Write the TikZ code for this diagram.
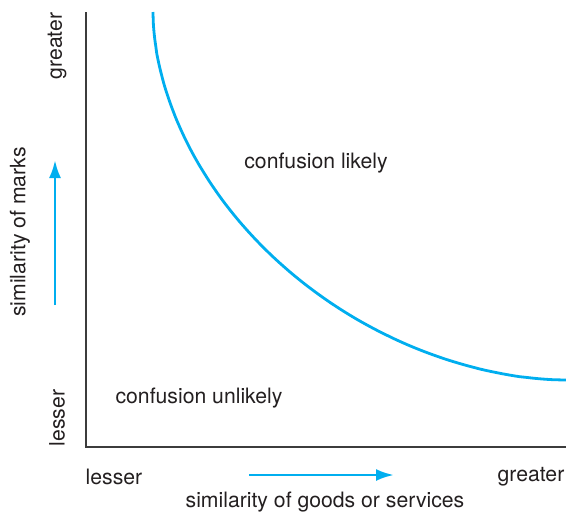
\documentclass[tikz,border=0pt]{standalone}
\usepackage{fontspec}
\setmainfont{TeX Gyre Heros}
\usetikzlibrary{arrows.meta}
\definecolor{cyanline}{RGB}{0,174,239}
\definecolor{axisgray}{RGB}{60,60,60}
\definecolor{txt}{RGB}{35,31,32}
\begin{document}
\begin{tikzpicture}[x=1pt,y=-1pt,
  lbl/.style={inner sep=0pt,text=txt,font=\fontsize{21.2}{25}\selectfont},
  axisline/.style={draw=axisgray,line width=1.6pt},
  curveline/.style={draw=cyanline,line width=2.8pt},
  dirarrow/.style={draw=cyanline,line width=2.8pt,-{Latex[length=18pt,width=12pt]}}]
\useasboundingbox (0,0) rectangle (566,515);
% axes
\coordinate (top) at (86,12);
\coordinate (origin) at (86,447);
\coordinate (right) at (566,447);
\draw[axisline] (top) -- (origin) -- (right);
% curve (superellipse quadrant)
\coordinate (c0) at (153,12);
\coordinate (c2) at (566,380);
\draw[curveline,line join=round] (c0) -- plot[smooth,domain=0.5:89.5,samples=90,variable=\t]
  ({566-413*pow(cos(\t),1.081)},{12+368*pow(sin(\t),1.081)}) -- (c2);
% direction arrows
\coordinate (va) at (55,305);
\coordinate (vb) at (55,160);
\draw[dirarrow] (va) -- (vb);
\coordinate (ha) at (249,475);
\coordinate (hb) at (394,475);
\draw[dirarrow] (ha) -- (hb);
% labels
\node[lbl] (likely) at (316,163) {confusion likely};
\node[lbl] (unlikely) at (199,398) {confusion unlikely};
\node[lbl] (xlesser) at (114,477) {lesser};
\node[lbl] (xgreater) at (531,477) {greater};
\node[lbl] (xtitle) at (325,502) {similarity of goods or services};
\node[lbl,rotate=90] (ygreater) at (57,46) {greater};
\node[lbl,rotate=90] (ylesser) at (57,418) {lesser};
\node[lbl,rotate=90] (ytitle) at (20,232) {similarity of marks};
\end{tikzpicture}
\end{document}
